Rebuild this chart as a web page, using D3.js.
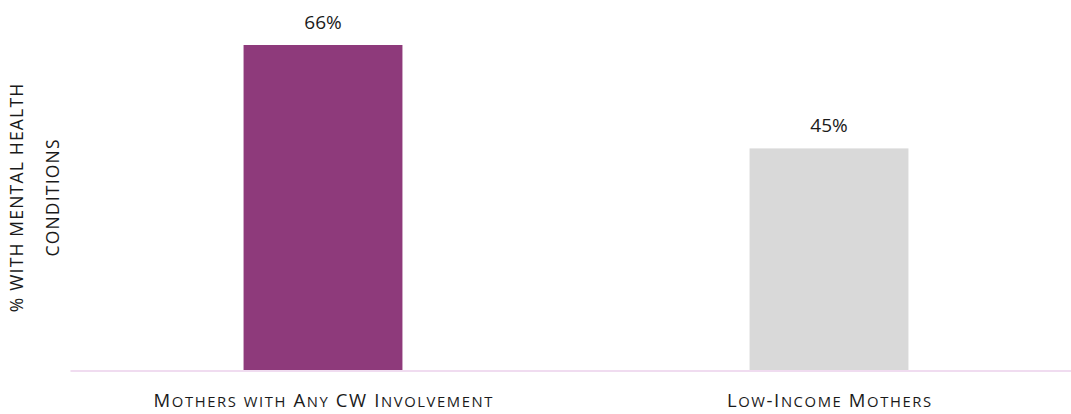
<!DOCTYPE html>
<html>
<head>
<meta charset="utf-8">
<script src="https://cdn.jsdelivr.net/npm/d3@7"></script>
<style>
  html, body { margin: 0; padding: 0; background: #fff; }
  svg { display: block; font-family: "Open Sans", Lato, sans-serif; }
</style>
</head>
<body>
<svg id="chart" width="1071" height="414"></svg>
<script>
const categories = ["Mothers with Any CW Involvement", "Low-Income Mothers"];
const values = [66, 45];
const valueLabels = ["66%", "45%"];
const barColors = ["#8E3A7B", "#D9D9D9"];
const yTitleLines = ["% WITH MENTAL HEALTH", "CONDITIONS"];

const svg = d3.select("#chart");
const baseY = 370;

const x = d3.scaleBand()
  .domain(categories)
  .range([70, 1082])
  .paddingInner(0.686)
  .paddingOuter(0.343);

const y = d3.scaleLinear()
  .domain([0, 66])
  .range([baseY, 45]);

// bars
svg.selectAll("rect.bar")
  .data(categories)
  .enter().append("rect")
  .attr("class", "bar")
  .attr("x", d => x(d))
  .attr("y", (d, i) => y(values[i]))
  .attr("width", x.bandwidth())
  .attr("height", (d, i) => y(0) - y(values[i]))
  .attr("fill", (d, i) => barColors[i]);

// baseline axis
const xAxis = d3.axisBottom(x).tickSize(0).tickPadding(0).tickFormat("");
const gx = svg.append("g").attr("transform", `translate(0,${baseY + 0.5})`).call(xAxis);
gx.select(".domain").attr("stroke", "#F0DCF0").attr("stroke-width", 2);

// category labels (manual small caps)
const bigSize = 18.5, smallSize = 14.8, catSpacing = 1.6;
function smallCapsRuns(s) {
  const runs = [];
  for (const ch of s) {
    const isLower = ch !== ch.toUpperCase();
    const last = runs[runs.length - 1];
    if (last && last.small === isLower) last.text += ch;
    else runs.push({ small: isLower, text: ch });
  }
  return runs;
}
svg.selectAll("text.cat")
  .data(categories)
  .enter().append("text")
  .attr("class", "cat")
  .attr("x", d => x(d) + x.bandwidth() / 2 + catSpacing / 2)
  .attr("y", 407)
  .attr("text-anchor", "middle")
  .attr("letter-spacing", catSpacing)
  .attr("fill", "#1a1a1a")
  .each(function (d) {
    const t = d3.select(this);
    smallCapsRuns(d).forEach(r => {
      t.append("tspan")
        .attr("font-size", r.small ? smallSize : bigSize)
        .text(r.text.toUpperCase());
    });
  });

// value labels
svg.selectAll("text.val")
  .data(categories)
  .enter().append("text")
  .attr("class", "val")
  .attr("x", d => x(d) + x.bandwidth() / 2)
  .attr("y", (d, i) => y(values[i]) - 16)
  .attr("text-anchor", "middle")
  .attr("font-size", 19)
  .attr("fill", "#1a1a1a")
  .text((d, i) => valueLabels[i]);

// y title
const yt = svg.append("text")
  .attr("transform", "translate(0,198) rotate(-90)")
  .attr("text-anchor", "middle")
  .attr("font-size", 17.5)
  .attr("letter-spacing", 1.2)
  .attr("fill", "#1a1a1a");
yTitleLines.forEach((t, i) => {
  yt.append("tspan").attr("x", 0.6).attr("y", 23 + i * 36).text(t);
});
</script>
</body>
</html>
